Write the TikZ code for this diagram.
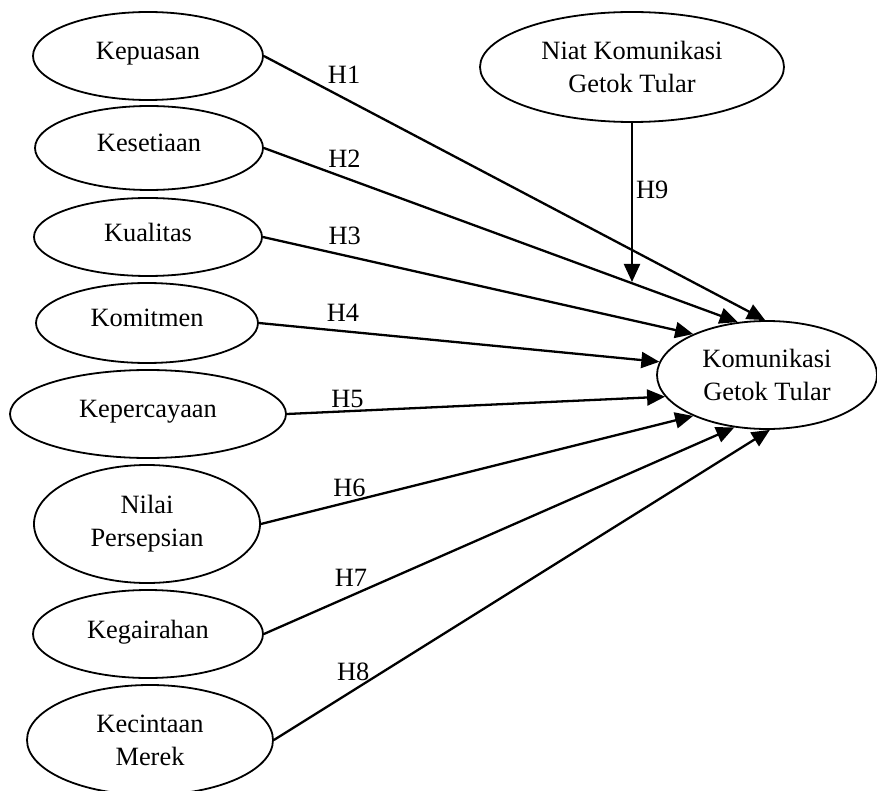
\documentclass[tikz,border=0pt]{standalone}
\usepackage{fontspec}
\setmainfont{Liberation Serif}
\usetikzlibrary{arrows.meta,shapes.geometric}
\begin{document}
\begin{tikzpicture}[x=1pt, y=-1pt,
                every node/.style={font=\fontsize{26.4}{33}\selectfont},
                var/.style={draw, ellipse, line width=1.8pt, inner sep=0pt, align=center},
                one line/.style={text depth=10pt},
                link/.style={line width=2.3pt, -{Triangle[length=18pt, width=16pt]}},
                hyp/.style={inner sep=2pt}]
                \useasboundingbox (0,0) rectangle (877,791);
                % variables on the left
                \node[var, one line, minimum width=230pt, minimum height=88pt] (kep) at (148,56) {Kepuasan};
                \node[var, one line, minimum width=228pt, minimum height=84pt] (kes) at (149,148) {Kesetiaan};
                \node[var, one line, minimum width=228pt, minimum height=78pt] (kua) at (148,237) {Kualitas};
                \node[var, one line, minimum width=222pt, minimum height=80pt] (kom) at (147,323) {Komitmen};
                \node[var, one line, minimum width=276pt, minimum height=88pt] (kpc) at (148,414) {Kepercayaan};
                \node[var, minimum width=226pt, minimum height=118pt] (nil) at (147,524) {Nilai\\Persepsian};
                \node[var, one line, minimum width=230pt, minimum height=88pt] (kgr) at (148,634) {Kegairahan};
                \node[var, minimum width=246pt, minimum height=110pt] (kcm) at (150,740) {Kecintaan\\Merek};
                % moderator and outcome
                \node[var, minimum width=304pt, minimum height=110pt] (niat) at (632,67) {Niat Komunikasi\\Getok Tular};
                \node[var, minimum width=220pt, minimum height=108pt] (kgt) at (767,375) {Komunikasi\\Getok Tular};
                \foreach \src/\ang/\p/\up/\lab in {kep/92/0.16/12/H1, kes/119/0.17/7/H2, kua/151/0.19/8/H3, kom/173/0.21/6/H4,
                    kpc/192/0.16/0/H5, nil/209/0.205/2/H6, kgr/238/0.185/6/H7, kcm/273/0.16/6/H8}
                    \draw[link] (\src.east) -- (kgt.\ang) node[hyp, pos=\p, above=\up pt] (l\lab) {\lab};
                \coordinate (h9end) at (632,282);
                \draw[link] (niat.south) -- (h9end) node[hyp, pos=0.42, right=1pt] (lH9) {H9};
            \end{tikzpicture}
\end{document}
